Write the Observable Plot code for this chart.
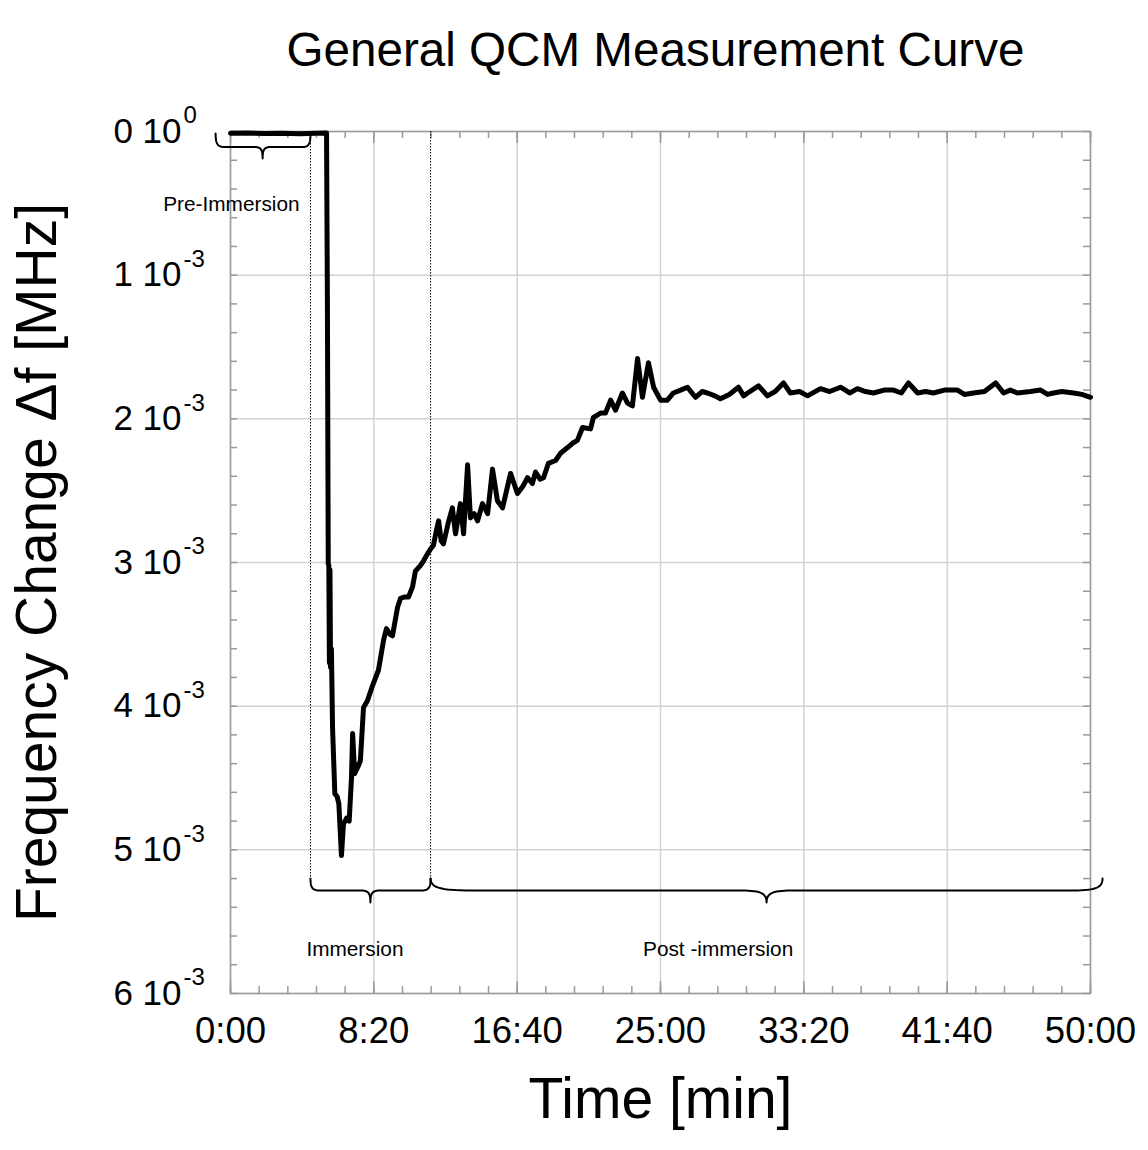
<!DOCTYPE html>
<html>
<head>
<meta charset="utf-8">
<script src="https://cdn.jsdelivr.net/npm/d3@7"></script>
<script src="https://cdn.jsdelivr.net/npm/@observablehq/plot@0.6"></script>
<style>
html, body { margin: 0; padding: 0; background: #fff; overflow: hidden; }
</style>
</head>
<body>
<div id="chart"></div>
<script>
// ---- data (time in seconds, frequency change in units of 10^-3 MHz) ----
const timeSec = [0,60,120,180,240,300,335,338,341,343,345,347,349,352,356,364,372,378,387,394,405,414,422,426,433,445,453,464,478,495,516,534,544,556,565,583,593,608,621,635,645,663,673,687,700,708,718,726,735,743,760,774,785,802,813,827,837,850,862,879,897,914,931,949,977,1001,1020,1036,1053,1064,1080,1092,1109,1134,1151,1176,1193,1210,1228,1256,1266,1291,1308,1326,1343,1367,1385,1402,1420,1437,1458,1476,1500,1524,1545,1570,1594,1622,1645,1664,1690,1709,1740,1772,1790,1804,1842,1873,1900,1929,1953,1985,2013,2058,2090,2128,2160,2187,2215,2243,2280,2313,2340,2365,2397,2425,2452,2490,2536,2560,2592,2630,2669,2697,2720,2745,2790,2826,2850,2871,2900,2941,2970,3000];
const deltaF = [0.012,0.010,0.014,0.012,0.016,0.012,0.010,1.18,3.01,3.02,3.70,3.05,3.73,3.60,4.15,4.61,4.63,4.68,5.04,4.82,4.78,4.80,4.50,4.19,4.47,4.42,4.38,4.01,3.96,3.86,3.75,3.54,3.46,3.50,3.51,3.31,3.25,3.24,3.24,3.17,3.06,3.02,2.99,2.94,2.90,2.88,2.78,2.71,2.85,2.87,2.72,2.62,2.80,2.59,2.80,2.32,2.69,2.66,2.71,2.59,2.66,2.35,2.57,2.62,2.38,2.52,2.47,2.41,2.45,2.37,2.42,2.41,2.31,2.29,2.24,2.20,2.17,2.15,2.06,2.07,1.99,1.96,1.96,1.87,1.94,1.82,1.89,1.91,1.58,1.85,1.61,1.78,1.87,1.87,1.82,1.80,1.78,1.85,1.81,1.82,1.84,1.86,1.83,1.78,1.84,1.82,1.77,1.84,1.81,1.75,1.82,1.81,1.84,1.79,1.81,1.78,1.82,1.79,1.81,1.82,1.80,1.80,1.82,1.75,1.82,1.81,1.82,1.80,1.80,1.83,1.82,1.81,1.75,1.82,1.80,1.82,1.81,1.80,1.83,1.82,1.81,1.82,1.83,1.85];

const xTickValues = [0, 500, 1000, 1500, 2000, 2500, 3000];
const xTickLabels = ["0:00", "8:20", "16:40", "25:00", "33:20", "41:40", "50:00"];
const xMinorTicks = [0,100,200,300,400,500,600,700,800,900,1000,1100,1200,1300,1400,1500,1600,1700,1800,1900,2000,2100,2200,2300,2400,2500,2600,2700,2800,2900,3000];
const yTickValues = [0, 1, 2, 3, 4, 5, 6];
const yTickMantissas = ["0 10", "1 10", "2 10", "3 10", "4 10", "5 10", "6 10"];
const yTickExponents = ["0", "-3", "-3", "-3", "-3", "-3", "-3"];
const yMinorTicks = [0,0.2,0.4,0.6,0.8,1,1.2,1.4,1.6,1.8,2,2.2,2.4,2.6,2.8,3,3.2,3.4,3.6,3.8,4,4.2,4.4,4.6,4.8,5,5.2,5.4,5.6,5.8,6];

const phaseBoundaries = [279, 698];
const phaseBoundaryEnd = 5.20;
const phaseLabels = ["Pre-Immersion", "Immersion", "Post -immersion"];
const phaseLabelX = [3, 434, 1701];
const phaseLabelY = [0.51, 5.69, 5.69];

const braceStart = [-52, 279, 698];
const braceEnd = [279, 698, 3042];
const braceEndY = [0.014, 5.20, 5.20];
const braceLineY = [0.108, 5.283, 5.283];
const braceTipY = [0.188, 5.366, 5.366];
const braceTip = [112, 488, 1870];
const braceCurlLeft = [35, 35, 165];
const braceCurlRight = [30, 35, 120];
const braceTipCurl = [30, 35, 100];

const title = "General QCM Measurement Curve";
const xTitle = "Time [min]";
const yTitle = "Frequency Change \u0394f [MHz]";

// ---- build tables ----
const series = timeSec.map((t, i) => ({t, v: deltaF[i]}));

function bez(p0, p1, p2, p3, n, out, id) {
  for (let k = 0; k <= n; k++) {
    const s = k / n, u = 1 - s;
    out.push({
      id,
      t: u*u*u*p0[0] + 3*u*u*s*p1[0] + 3*u*s*s*p2[0] + s*s*s*p3[0],
      v: u*u*u*p0[1] + 3*u*u*s*p1[1] + 3*u*s*s*p2[1] + s*s*s*p3[1]
    });
  }
}
const bracePts = [];
braceStart.forEach((x1, i) => {
  const x2 = braceEnd[i], xm = braceTip[i];
  const yE = braceEndY[i], yL = braceLineY[i], yT = braceTipY[i];
  const cl = braceCurlLeft[i], cr = braceCurlRight[i], ct = braceTipCurl[i];
  bez([x1, yE], [x1, yE + (yL - yE) * 0.85], [x1 + cl * 0.25, yL], [x1 + cl, yL], 16, bracePts, i);
  bez([xm - ct, yL], [xm - ct * 0.25, yL], [xm, yL + (yT - yL) * 0.15], [xm, yT], 16, bracePts, i);
  bez([xm, yT], [xm, yL + (yT - yL) * 0.15], [xm + ct * 0.25, yL], [xm + ct, yL], 16, bracePts, i);
  bez([x2 - cr, yL], [x2 - cr * 0.25, yL], [x2, yE + (yL - yE) * 0.85], [x2, yE], 16, bracePts, i);
});

const W = 1148, H = 1150;
const mL = 230, mR = 58, mT = 131, mB = 157;
const plotH = H - mT - mB;
const plotW = W - mL - mR;
const font = "'Liberation Sans', Arial, Helvetica, sans-serif";
const frameColor = "#9a9a9a";
const gridColor = "#d2d2d2";

const chart = Plot.plot({
  width: W,
  height: H,
  marginLeft: mL,
  marginRight: mR,
  marginTop: mT,
  marginBottom: mB,
  style: {fontFamily: font, background: "#fff", color: "#000", overflow: "visible"},
  x: {domain: [0, 3000], label: null},
  y: {domain: [0, 6], reverse: true, label: null},
  marks: [
    Plot.gridX(xTickValues, {stroke: gridColor, strokeOpacity: 1, strokeWidth: 1.5}),
    Plot.gridY(yTickValues, {stroke: gridColor, strokeOpacity: 1, strokeWidth: 1.5}),
    // inward minor ticks
    Plot.ruleX(xMinorTicks, {x: d => d, insetTop: plotH - 7, stroke: frameColor, strokeWidth: 1.5}),
    Plot.ruleX(xMinorTicks, {x: d => d, insetBottom: plotH - 7, stroke: frameColor, strokeWidth: 1.5}),
    Plot.ruleY(yMinorTicks, {y: d => d, insetRight: plotW - 7, stroke: frameColor, strokeWidth: 1.5}),
    Plot.ruleY(yMinorTicks, {y: d => d, insetLeft: plotW - 7, stroke: frameColor, strokeWidth: 1.5}),
    // major ticks
    Plot.ruleX(xTickValues, {x: d => d, insetTop: plotH - 12, stroke: frameColor, strokeWidth: 1.5}),
    Plot.ruleX(xTickValues, {x: d => d, insetBottom: plotH - 12, stroke: frameColor, strokeWidth: 1.5}),
    Plot.frame({stroke: frameColor, strokeWidth: 1.5}),
    // axes
    Plot.axisX(xTickValues, {
      label: null, tickSize: 0, tickPadding: 24, fontSize: 36.5,
      tickFormat: d => xTickLabels[xTickValues.indexOf(d)]
    }),
    Plot.axisY(yTickValues, {
      label: null, tickSize: 0, tickPadding: 49, fontSize: 35,
      tickFormat: d => yTickMantissas[yTickValues.indexOf(d)]
    }),
    Plot.text(yTickValues, {
      y: d => d, frameAnchor: "left", text: d => yTickExponents[yTickValues.indexOf(d)],
      textAnchor: "start", dx: -47, dy: -16, fontSize: 24, fill: "#000"
    }),
    // phase separators
    Plot.ruleX(phaseBoundaries, {x: d => d, y1: 0, y2: phaseBoundaryEnd, stroke: "#000", strokeWidth: 1, strokeDasharray: "1.5,1.5"}),
    // braces
    Plot.line(bracePts, {x: "t", y: "v", z: "id", stroke: "#000", strokeWidth: 2, strokeLinejoin: "round"}),
    // measurement curve
    Plot.line(series, {x: "t", y: "v", stroke: "#000", strokeWidth: 5, strokeLinejoin: "round", strokeLinecap: "round"}),
    // phase labels
    Plot.text(phaseLabels, {x: (d, i) => phaseLabelX[i], y: (d, i) => phaseLabelY[i], text: d => d, fontSize: 20.8, fill: "#000"}),
    // titles
    Plot.text([title], {frameAnchor: "top", textAnchor: "middle", dx: -5, dy: -99, fontSize: 47.6, fill: "#000"}),
    Plot.text([xTitle], {frameAnchor: "bottom", textAnchor: "middle", dy: 124, fontSize: 57, fill: "#000"}),
    Plot.text([yTitle], {frameAnchor: "left", textAnchor: "middle", dx: -193, rotate: -90, fontSize: 57, fill: "#000"})
  ]
});
document.getElementById("chart").append(chart);
</script>
</body>
</html>
